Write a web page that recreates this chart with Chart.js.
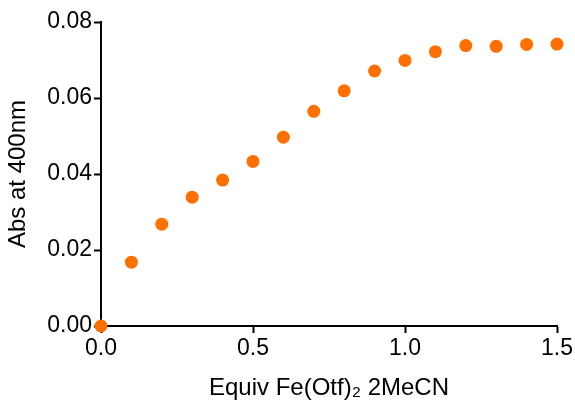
<!DOCTYPE html>
<html>
<head>
<meta charset="utf-8">
<script src="https://cdn.jsdelivr.net/npm/chart.js@4"></script>
<style>
  html, body { margin: 0; padding: 0; background: #fff; }
  #wrap { width: 575px; height: 403px; }
</style>
</head>
<body>
<div id="wrap"><canvas id="abs" width="575" height="403"></canvas></div>
<script>
// equivalents of Fe(OTf)2 added vs absorbance at 400 nm
var equiv = [0, 0.1, 0.2, 0.3, 0.4, 0.5, 0.6, 0.7, 0.8, 0.9, 1.0, 1.1, 1.2, 1.3, 1.4, 1.5];
var absorbance = [0, 0.0168, 0.0268, 0.0339, 0.0384, 0.0433, 0.0497, 0.0565, 0.0619, 0.0671, 0.0699, 0.0722, 0.0738, 0.0736, 0.0741, 0.0742];
var xTicks = [0, 0.5, 1.0, 1.5];
var yTicks = [0, 0.02, 0.04, 0.06, 0.08];

var font = "'Liberation Sans', Arial, sans-serif";
Chart.defaults.font.family = font;
Chart.defaults.color = '#000';

var pts = equiv.map(function (x, i) { return { x: x, y: absorbance[i] }; });

var absCanvas = document.getElementById('abs');
var absChart = new Chart(absCanvas, {
  type: 'scatter',
  data: {
    datasets: [{
      data: pts,
      backgroundColor: '#ff7000',
      borderColor: '#ff7000',
      pointRadius: 6.5,
      pointBorderWidth: 0,
      clip: false
    }]
  },
  options: {
    responsive: false,
    animation: false,
    layout: { padding: { top: 22, right: 18, left: 0, bottom: 0 } },
    plugins: {
      legend: { display: false },
      tooltip: { enabled: false }
    },
    scales: {
      x: {
        type: 'linear',
        min: 0,
        max: 1.5,
        afterBuildTicks: function (s) { s.ticks = xTicks.map(function (v) { return { value: v }; }); },
        afterFit: function (s) { s.height = 77; },
        border: { display: true, color: '#000', width: 2 },
        grid: { drawOnChartArea: false, drawTicks: true, tickLength: 7, tickColor: '#000', tickWidth: 2 },
        ticks: {
          font: { size: 23 },
          padding: 2,
          maxRotation: 0,
          callback: function (v) { return v.toFixed(1); }
        },
        title: {
          display: true,
          text: 'Equiv Fe(Otf)\u2082 2MeCN',
          font: { size: 24 },
          padding: { top: 2, bottom: 0 }
        }
      },
      y: {
        type: 'linear',
        min: 0,
        max: 0.08,
        afterBuildTicks: function (s) { s.ticks = yTicks.map(function (v) { return { value: v }; }); },
        afterFit: function (s) { s.width = 101; },
        border: { display: true, color: '#000', width: 2 },
        grid: { drawOnChartArea: false, drawTicks: true, tickLength: 7, tickColor: '#000', tickWidth: 2 },
        ticks: {
          font: { size: 23 },
          padding: 2,
          callback: function (v) { return v.toFixed(2); }
        },
        title: {
          display: true,
          text: 'Abs at 400nm',
          font: { size: 24 },
          padding: { top: 4, bottom: 0 }
        }
      }
    }
  }
});
</script>
</body>
</html>
